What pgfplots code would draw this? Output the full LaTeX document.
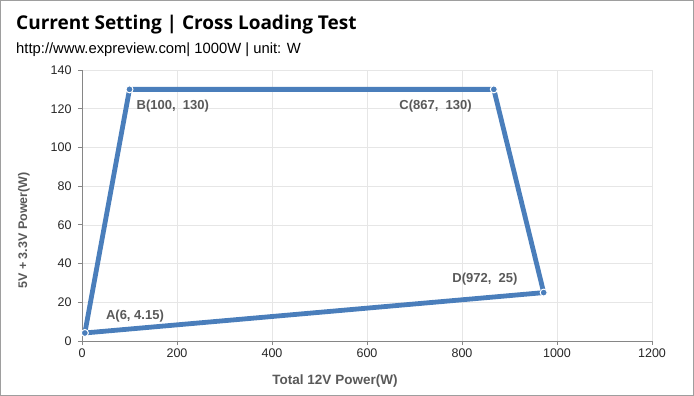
\documentclass[border=0pt]{standalone}
\usepackage{pgfplots}
\pgfplotsset{compat=1.18}
\usepackage{fontspec}
\setmainfont{Liberation Sans}
\newfontfamily\titlefont{Open Sans}
\definecolor{lineblue}{HTML}{4A7EBB}
\definecolor{gridgray}{HTML}{E6E6E6}
\definecolor{axisgray}{HTML}{868686}
\definecolor{labgray}{HTML}{595959}
\begin{document}
\begin{tikzpicture}
\draw[color=axisgray!80, line width=1pt] (0.5pt,0.5pt) rectangle (693.5pt,395.5pt);
\node[anchor=base west, inner sep=0pt] at (16pt,366pt) {\titlefont\bfseries\fontsize{19}{23}\selectfont Current Setting | Cross Loading Test};
\node[anchor=base west, inner sep=0pt] at (16pt,342pt) {\fontsize{14.8}{17}\selectfont http://www.expreview.com| 1000W | unit: W};
\begin{axis}[
  at={(82pt,55pt)}, anchor=south west,
  scale only axis, width=570pt, height=271pt,
  xmin=0, xmax=1200, ymin=0, ymax=140,
  xtick={0,200,...,1200}, ytick={0,20,...,140},
  axis x line*=bottom, axis y line*=left,
  axis line style={axisgray, line width=0.8pt, -},
  tick style={axisgray, line width=0.8pt},
  tick align=outside, major tick length=4pt,
  grid=major, major grid style={gridgray, line width=0.6pt},
  tick label style={font=\fontsize{12.5}{14}\selectfont, text=black!85},
  yticklabel style={xshift=-3pt},
  /pgf/number format/assume math mode=true,
  /pgf/number format/1000 sep={},
  xlabel={\textbf{Total 12V Power(W)}},
  ylabel={\textbf{5V\ +\ 3.3V Power(W)}},
  label style={text=labgray},
  xlabel style={font=\fontsize{13.5}{15}\selectfont, yshift=-10pt, xshift=-32pt},
  ylabel style={font=\fontsize{12.5}{14}\selectfont, yshift=14pt, xshift=-25pt},
  clip=false,
]
\addplot[lineblue, line width=4.8pt, line join=round] coordinates {
 (6,4.15) (100,130) (867,130) (972,25) (6,4.15)
};
\addplot[only marks, mark=*, mark size=3.5pt, mark options={fill=lineblue, draw=white, line width=1pt}] coordinates {
 (6,4.15) (100,130) (867,130) (972,25)
};
\begin{scope}[every node/.style={font=\bfseries\fontsize{13}{15}\selectfont, text=labgray, inner sep=0pt}]
\node[anchor=west] at (axis cs:100,130) [xshift=7pt, yshift=-17pt] {B(100,\ \ 130)};
\node[anchor=east] at (axis cs:867,130) [xshift=-22pt, yshift=-17pt] {C(867,\ \ 130)};
\node[anchor=east] at (axis cs:972,25) [xshift=-26pt, yshift=13pt] {D(972,\ \ 25)};
\node[anchor=west] at (axis cs:6,4.15) [xshift=21pt, yshift=17pt] {A(6,\ 4.15)};
\end{scope}
\end{axis}
\end{tikzpicture}
\end{document}
